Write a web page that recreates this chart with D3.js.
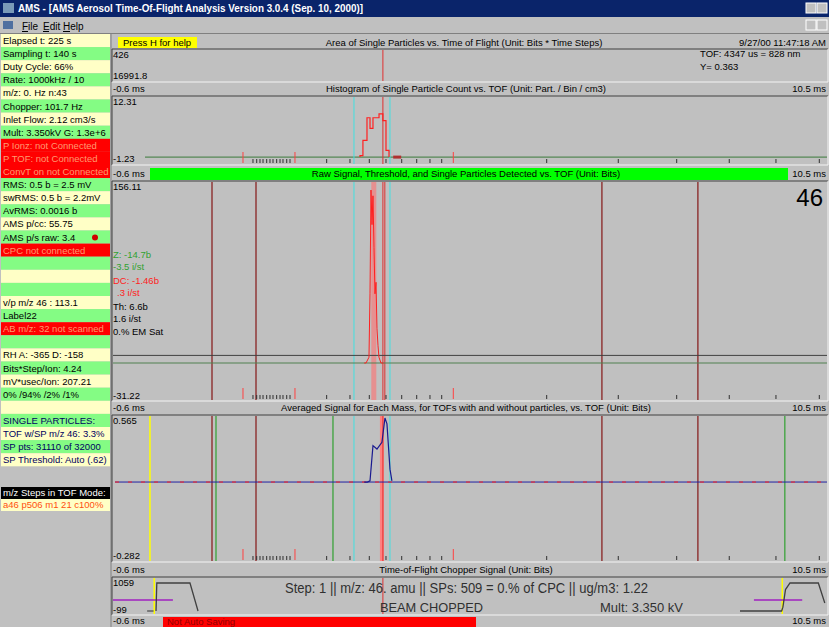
<!DOCTYPE html>
<html><head><meta charset="utf-8">
<script src="https://cdn.jsdelivr.net/npm/d3@7"></script>
<style>
body{margin:0;background:#c0c0c0;overflow:hidden}
svg{display:block}
text{font-family:"Liberation Sans",Arial,sans-serif}
</style>
</head><body>
<svg id="c" width="829" height="627"></svg>
<script>
// ---------- status list (left column) ----------
const statusText = ["Elapsed t: 225 s","Sampling t: 140 s","Duty Cycle: 66%","Rate: 1000kHz / 10","m/z: 0. Hz n:43","Chopper: 101.7 Hz","Inlet Flow: 2.12 cm3/s","Mult: 3.350kV G: 1.3e+6","P Ionz: not Connected","P TOF: not Connected","ConvT on not Connected","RMS: 0.5 b = 2.5 mV","swRMS: 0.5 b = 2.2mV","AvRMS: 0.0016 b","AMS p/cc: 55.75","AMS p/s raw: 3.4","CPC not connected","","","","v/p m/z 46 : 113.1","Label22","AB m/z: 32 not scanned","","RH A: -365 D: -158","Bits*Step/Ion: 4.24","mV*usec/Ion: 207.21","0% /94% /2% /1%","","SINGLE PARTICLES:","TOF w/SP m/z 46: 3.3%","SP pts: 31110 of 32000","SP Threshold: Auto (.62)"];
const statusKind = ["y","g","y","g","y","g","y","g","r","r","r","g","y","g","y","g","r","g","y","g","y","g","r","g","y","g","y","g","y","g","y","g","y"];

// ---------- TOF axis ----------
const tofRange = [-0.6, 10.5];            // ms
const tofLabels = ["-0.6 ms", "10.5 ms"];

// histogram of single particle count (bin start ms, count)
const histBinStart = [3.234, 3.280, 3.343, 3.390, 3.436, 3.480, 3.530, 3.590, 3.638];
const histCount    = [0.3,   3.5,   8.2,   6.0,   8.2,   8.2,   9.0,   7.6,   1.4];
const histBinEnd = 3.685;
const histRange = [-1.23, 12.31];

// raw signal of the detected particle (ms, bits)
const rawTof  = [3.300, 3.328, 3.374, 3.390, 3.405, 3.421, 3.436, 3.452, 3.467, 3.483, 3.498, 3.514, 3.529, 3.560, 3.600];
const rawBits = [0,     0,     5,     60,    150,   120,   145,   100,   60,    70,    30,    15,    5,     0,     0];
const rawRange = [-31.22, 156.11];
const rawThreshold = 6.6;

// averaged signal for m/z 46 (ms, bits)
const avgTof  = [3.300, 3.349, 3.390, 3.436, 3.498, 3.575, 3.622, 3.653, 3.700, 3.730];
const avgBits = [0.183, 0.183, 0.190, 0.400, 0.380, 0.420, 0.565, 0.530, 0.260, 0.190];
const avgRange = [-0.282, 0.565];
const avgBase = 0.183;

// chopper signal (ms, bits)
const chopLeftTof  = [0.068, 0.080, 0.120, 0.595, 0.720];
const chopLeftBits = [-31,   923,   923,   923,   -31];
const chopRightTof  = [9.134, 9.780, 9.800, 9.840, 9.910, 10.350, 10.450];
const chopRightBits = [-31,   -31,   100,   700,   923,   923,    241];
const chopRange = [-99, 1059];
const chopLevel = 344;

// marker lines (ms)
const brownLines  = [0.937, 1.620, 6.990, 8.480];
const cyanLines   = [3.141, 3.700];
const redLines    = [3.590];
const greenLines  = [0.999, 2.815, 9.830];
const yellowLines = [-0.026];
const chopYellow  = [0.040, 9.790];

// mass ticks along the TOF axis (ms)
const massTicks = [1.573,1.631,1.682,1.729,1.786,1.837,1.884,1.941,1.993,2.039,2.097,2.148,2.717,3.079,3.379,3.638,3.882,4.115,4.321,4.503,6.133,7.244,8.151,8.967,9.692,10.365];
const massTicksRed = [1.418, 2.225, 4.683];

// ---------- drawing ----------
const svg = d3.select("#c");
const FACE = "#c0c0c0", YEL = "#ffffc6", GRN = "#84fc84", RED = "#ff0000";
const x = d3.scaleLinear().domain(tofRange).range([113, 828]);

function txt(g, s, px, py, o = {}) {
  const t = g.append("text").attr("x", px).attr("y", py).text(s)
    .attr("font-size", o.size || 10).attr("fill", o.fill || "#000");
  if (o.anchor) t.attr("text-anchor", o.anchor);
  if (o.weight) t.attr("font-weight", o.weight);
  if (o.len) t.attr("textLength", o.len).attr("lengthAdjust", "spacingAndGlyphs");
  return t;
}
function sunken(x0, y0, w, h) {
  svg.append("rect").attr("x", x0).attr("y", y0).attr("width", w).attr("height", h).attr("fill", FACE);
  svg.append("path").attr("d", `M${x0},${y0 + h}V${y0}H${x0 + w}`).attr("stroke", "#404040").attr("fill", "none");
  svg.append("path").attr("d", `M${x0},${y0 + h}H${x0 + w}V${y0}`).attr("stroke", "#f4f4f4").attr("fill", "none");
}

// window frame
svg.append("rect").attr("width", 829).attr("height", 627).attr("fill", FACE);
svg.append("rect").attr("width", 829).attr("height", 17).attr("fill", "#0a246a");
svg.append("rect").attr("x", 3).attr("y", 3).attr("width", 11).attr("height", 10).attr("fill", "#7a9ab8");
txt(svg, "AMS - [AMS Aerosol Time-Of-Flight Analysis Version 3.0.4 (Sep. 10, 2000)]", 18, 12, {fill: "#fff", weight: "bold", size: 10.5, len: 345});
[806, 817].forEach(bx => {
  svg.append("rect").attr("x", bx).attr("y", 3).attr("width", 10).attr("height", 10).attr("fill", FACE).attr("stroke", "#fff");
  svg.append("rect").attr("x", bx).attr("y", 20).attr("width", 10).attr("height", 10).attr("fill", FACE).attr("stroke", "#fff");
});
svg.append("rect").attr("x", 3).attr("y", 21).attr("width", 10).attr("height", 8).attr("fill", "#5070a0");
[["File", 22, 6], ["Edit", 43, 6], ["Help", 63, 7]].forEach(([s, mx, uw]) => {
  txt(svg, s, mx, 30, {size: 10});
  svg.append("line").attr("x1", mx).attr("x2", mx + uw).attr("y1", 31.5).attr("y2", 31.5).attr("stroke", "#000");
});
svg.append("line").attr("x1", 0).attr("x2", 829).attr("y1", 33.5).attr("y2", 33.5).attr("stroke", "#808080");

// status column
const rowH = 13.1, row0 = 34;
const fillOf = {y: YEL, g: GRN, r: RED};
const rows = svg.append("g");
statusText.forEach((s, i) => {
  const y0 = row0 + i * rowH;
  rows.append("rect").attr("x", 1).attr("y", y0).attr("width", 109).attr("height", rowH).attr("fill", fillOf[statusKind[i]]);
  const col = statusKind[i] === "r" ? "#ff9a70" : (i >= 29 ? "#000060" : "#000");
  if (s) txt(rows, s, 3, y0 + 10, {size: 9.5, fill: col});
});
rows.append("circle").attr("cx", 95).attr("cy", row0 + 15 * rowH + 7).attr("r", 3).attr("fill", "#d00000");
rows.append("rect").attr("x", 1).attr("y", 487).attr("width", 109).attr("height", 12).attr("fill", "#000");
txt(rows, "m/z Steps in TOF Mode:", 3, 496, {size: 9.5, fill: "#fff"});
rows.append("rect").attr("x", 1).attr("y", 499).attr("width", 109).attr("height", 12).attr("fill", YEL);
txt(rows, "a46 p506 m1 21 c100%", 3, 508, {size: 9.5, fill: "#ff5010"});
svg.append("line").attr("x1", 111).attr("x2", 111).attr("y1", 34).attr("y2", 627).attr("stroke", "#808080");

// panel geometry
const P1 = [49, 82], P2 = [96, 165], P3 = [181, 401], P4 = [415, 562], P5 = [577, 615];
[P1, P2, P3, P4, P5].forEach(p => sunken(112, p[0], 716, p[1] - p[0]));

// header rows
svg.append("rect").attr("x", 118).attr("y", 37).attr("width", 79).attr("height", 11).attr("fill", "#ffff00");
txt(svg, "Press H for help", 123, 46, {size: 9.5});
txt(svg, "Area of Single Particles vs. Time of Flight  (Unit: Bits * Time Steps)", 464, 46, {anchor: "middle", size: 9.5});
txt(svg, "9/27/00 11:47:18 AM", 826, 46, {anchor: "end", size: 9.5});

function header(yb, title, green) {
  txt(svg, tofLabels[0], 113, yb, {size: 9.5});
  txt(svg, tofLabels[1], 826, yb, {anchor: "end", size: 9.5});
  if (green) svg.append("rect").attr("x", 150).attr("y", yb - 9).attr("width", 638).attr("height", 12).attr("fill", "#00ff00");
  txt(svg, title, 466, yb, {anchor: "middle", size: 9.5});
}
header(92, "Histogram of Single Particle Count vs. TOF   (Unit: Part. / Bin / cm3)");
header(177, "Raw Signal, Threshold, and Single Particles Detected vs. TOF   (Unit: Bits)", true);
header(411, "Averaged Signal for Each Mass, for TOFs with and without particles, vs. TOF   (Unit: Bits)");
header(573, "Time-of-Flight Chopper Signal  (Unit: Bits)");

// vertical markers
function vlines(vals, p, col, w = 1) {
  svg.append("g").selectAll("line").data(vals).join("line")
    .attr("x1", d => x(d)).attr("x2", d => x(d)).attr("y1", p[0] + 1).attr("y2", p[1] - 1)
    .attr("stroke", col).attr("stroke-width", w);
}
function massTickMarks(p) {
  const g = svg.append("g");
  g.selectAll("line.k").data(massTicks).join("line")
    .attr("x1", d => x(d)).attr("x2", d => x(d)).attr("y1", p[1] - 6).attr("y2", p[1] - 2).attr("stroke", "#303030");
  g.selectAll("line.r").data(massTicksRed).join("line")
    .attr("x1", d => x(d)).attr("x2", d => x(d)).attr("y1", p[1] - 13).attr("y2", p[1] - 2).attr("stroke", "#ff4040");
}

// panel 1: area of single particles
txt(svg, "426", 113, 58, {size: 9.5});
txt(svg, "16991.8", 113, 79, {size: 9.5});
txt(svg, "TOF: 4347 us = 828 nm", 700, 57, {size: 9.5});
txt(svg, "Y= 0.363", 700, 70, {size: 9.5});
vlines(redLines, P1, "#e03030");

// panel 2: histogram
const yH = d3.scaleLinear().domain(histRange).range([P2[1] - 2, P2[0] + 2]);
svg.append("line").attr("x1", 145).attr("x2", 827).attr("y1", yH(0)).attr("y2", yH(0)).attr("stroke", "#3a7a3a");
vlines(cyanLines, P2, "#40e0e0");
vlines(redLines, P2, "#e03030");
massTickMarks(P2);
const histPts = [];
histBinStart.forEach((b, i) => {
  const e = i < histBinStart.length - 1 ? histBinStart[i + 1] : histBinEnd;
  histPts.push([b, histCount[i]], [e, histCount[i]]);
});
histPts.unshift([histBinStart[0], 0]);
histPts.push([histBinEnd, 0]);
svg.append("path").datum(histPts)
  .attr("d", d3.line().x(d => x(d[0])).y(d => yH(d[1])))
  .attr("fill", "none").attr("stroke", "#ff2020").attr("stroke-width", 1.2);
svg.append("rect").attr("x", x(3.75)).attr("y", yH(0) - 1.5).attr("width", 8).attr("height", 3).attr("fill", "#b03030");
txt(svg, "12.31", 113, 105, {size: 9.5});
txt(svg, "-1.23", 113, 162, {size: 9.5});

// panel 3: raw signal
const yR = d3.scaleLinear().domain(rawRange).range([P3[1] - 2, P3[0] + 2]);
vlines(brownLines, P3, "#903838", 1.5);
svg.append("rect").attr("x", x(3.41)).attr("y", P3[0] + 1).attr("width", 5).attr("height", P3[1] - P3[0] - 2).attr("fill", "#ff7070").attr("opacity", 0.6);
vlines(cyanLines, P3, "#40e0e0");
vlines([3.59, 3.62], P3, "#e03030");
svg.append("line").attr("x1", 113).attr("x2", 827).attr("y1", yR(rawThreshold)).attr("y2", yR(rawThreshold)).attr("stroke", "#404040");
svg.append("line").attr("x1", 113).attr("x2", 827).attr("y1", yR(0)).attr("y2", yR(0)).attr("stroke", "#508050");
massTickMarks(P3);
svg.append("path").datum(rawTof.map((t, i) => [t, rawBits[i]]))
  .attr("d", d3.line().x(d => x(d[0])).y(d => yR(d[1])))
  .attr("fill", "none").attr("stroke", "#ff2020").attr("stroke-width", 1);
txt(svg, "156.11", 113, 190, {size: 9.5});
txt(svg, "-31.22", 113, 399, {size: 9.5});
txt(svg, "46", 823, 206, {anchor: "end", size: 24});
txt(svg, "Z: -14.7b", 113, 258, {size: 9.5, fill: "#30a030"});
txt(svg, "-3.5 i/st", 113, 270, {size: 9.5, fill: "#30a030"});
txt(svg, "DC: -1.46b", 113, 284, {size: 9.5, fill: "#ff2020"});
txt(svg, ".3 i/st", 117, 296, {size: 9.5, fill: "#ff2020"});
txt(svg, "Th: 6.6b", 113, 310, {size: 9.5});
txt(svg, "1.6 i/st", 113, 322, {size: 9.5});
txt(svg, "0.% EM Sat", 113, 335, {size: 9.5});

// panel 4: averaged signal
const yA = d3.scaleLinear().domain(avgRange).range([P4[1] - 2, P4[0] + 3]);
vlines(yellowLines, P4, "#ffff00", 1.5);
vlines(greenLines, P4, "#30a030", 1.2);
vlines(brownLines, P4, "#903838", 1.5);
vlines(cyanLines, P4, "#40e0e0");
vlines([3.575], P4, "#ff8080", 4);
vlines(redLines, P4, "#e03030");
massTickMarks(P4);
svg.append("line").attr("x1", 115).attr("x2", 827).attr("y1", yA(avgBase)).attr("y2", yA(avgBase)).attr("stroke", "#2020a0");
svg.append("line").attr("x1", 115).attr("x2", 827).attr("y1", yA(avgBase)).attr("y2", yA(avgBase)).attr("stroke", "#ff2020").attr("stroke-dasharray", "4,9");
svg.append("path").datum(avgTof.map((t, i) => [t, avgBits[i]]))
  .attr("d", d3.line().x(d => x(d[0])).y(d => yA(d[1])))
  .attr("fill", "none").attr("stroke", "#1a1a90").attr("stroke-width", 1.2);
txt(svg, "0.565", 113, 424, {size: 9.5});
txt(svg, "-0.282", 113, 559, {size: 9.5});

// panel 5: chopper
const yC = d3.scaleLinear().domain(chopRange).range([P5[1] - 2, P5[0] + 2]);
vlines(redLines, P5, "#e03030");
vlines(chopYellow, P5, "#ffff00", 1.5);
svg.append("line").attr("x1", 113).attr("x2", x(0.33)).attr("y1", yC(chopLevel)).attr("y2", yC(chopLevel)).attr("stroke", "#a020c0").attr("stroke-width", 1.5);
svg.append("line").attr("x1", x(9.35)).attr("x2", x(10.1)).attr("y1", yC(chopLevel)).attr("y2", yC(chopLevel)).attr("stroke", "#a020c0").attr("stroke-width", 1.5);
svg.append("line").attr("x1", x(-0.07)).attr("x2", x(0.03)).attr("y1", yC(-31)).attr("y2", yC(-31)).attr("stroke", "#303030");
const cl = d3.line().x(d => x(d[0])).y(d => yC(d[1]));
svg.append("path").datum(chopLeftTof.map((t, i) => [t, chopLeftBits[i]])).attr("d", cl).attr("fill", "none").attr("stroke", "#404040").attr("stroke-width", 1.3);
svg.append("path").datum(chopRightTof.map((t, i) => [t, chopRightBits[i]])).attr("d", cl).attr("fill", "none").attr("stroke", "#404040").attr("stroke-width", 1.3);
txt(svg, "1059", 113, 586, {size: 9.5});
txt(svg, "-99", 113, 613, {size: 9.5});
txt(svg, "Step:  1 || m/z: 46. amu || SPs: 509 = 0.% of CPC  || ug/m3: 1.22", 285, 593, {size: 14, fill: "#303030", len: 363});
txt(svg, "BEAM CHOPPED", 380, 612, {size: 13.5, fill: "#303030", len: 103});
txt(svg, "Mult: 3.350 kV", 600, 612, {size: 13.5, fill: "#303030", len: 83});

// status bar
txt(svg, "-0.6 ms", 113, 624, {size: 9.5});
svg.append("rect").attr("x", 163).attr("y", 617).attr("width", 313).attr("height", 10).attr("fill", RED);
txt(svg, "Not Auto Saving", 167, 625, {size: 9.5, fill: "#900000"});
txt(svg, "10.5 ms", 826, 624, {anchor: "end", size: 9.5});
</script>
</body></html>
